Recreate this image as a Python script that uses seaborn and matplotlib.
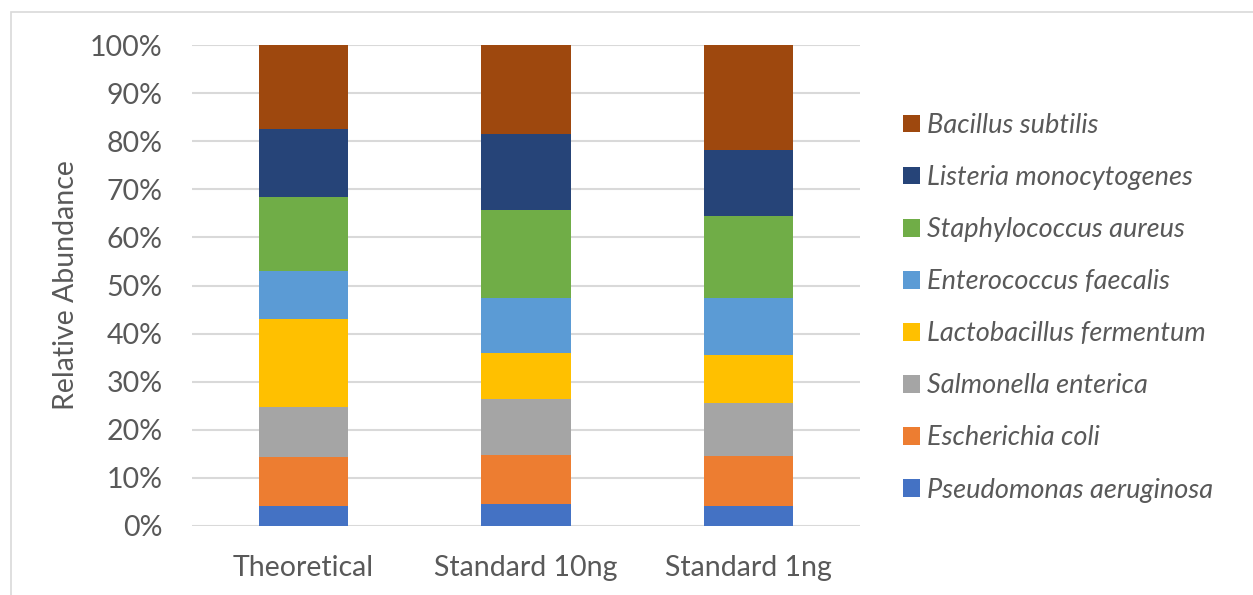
import matplotlib
matplotlib.use("Agg")
import matplotlib.pyplot as plt
from matplotlib.patches import Patch, Rectangle
import pandas as pd
import seaborn as sns

samples = ["Theoretical", "Standard 10ng", "Standard 1ng"]

# species from bottom of the stack to the top
species = ["Pseudomonas aeruginosa", "Escherichia coli", "Salmonella enterica",
           "Lactobacillus fermentum", "Enterococcus faecalis",
           "Staphylococcus aureus", "Listeria monocytogenes", "Bacillus subtilis"]

# relative abundance (%) per sample: Theoretical, Standard 10ng, Standard 1ng
pseudomonas = [4.2, 4.6, 4.2]
e_coli = [10.1, 10.1, 10.4]
salmonella = [10.4, 11.6, 11.0]
lactobacillus = [18.4, 9.6, 10.0]
enterococcus = [9.9, 11.6, 11.9]
staphylococcus = [15.5, 18.3, 16.9]
listeria = [14.1, 15.7, 13.8]
bacillus = [17.4, 18.5, 21.8]

colors = ["#4472C4", "#ED7D31", "#A5A5A5", "#FFC000", "#5B9BD5",
          "#70AD47", "#264478", "#9E480E"]

values = [pseudomonas, e_coli, salmonella, lactobacillus, enterococcus,
          staphylococcus, listeria, bacillus]

wide = pd.DataFrame(dict(zip(species, values)), index=samples)
wide = wide.div(wide.sum(axis=1), axis=0)
cum = wide.cumsum(axis=1)
long = cum.reset_index().melt(id_vars="index", var_name="Species", value_name="cum")
long = long.rename(columns={"index": "Sample"})

sns.set_style("white")
plt.rcParams["font.family"] = ["Lato", "DejaVu Sans"]
grey = "#595959"
fs = 20.5

fig = plt.figure(figsize=(12.53, 5.95), dpi=100)
ax = fig.add_axes([192 / 1253, 69 / 595, 668 / 1253, 481 / 595])

# draw cumulative totals from the top down so each segment overlays the previous
for sp, c in reversed(list(zip(species, colors))):
    sub = long[long["Species"] == sp]
    sns.barplot(data=sub, x="Sample", y="cum", color=c, width=0.4,
                order=samples, ax=ax, saturation=1, linewidth=0)

ax.set_xlim(-0.5, 2.5)
ax.set_ylim(0, 1)
ax.set_yticks([i / 10 for i in range(11)])
ax.set_yticklabels([f"{i * 10}%" for i in range(11)])
ax.yaxis.grid(True, color="#D9D9D9", linewidth=1.5)
ax.set_axisbelow(True)
for s in ax.spines.values():
    s.set_visible(False)
ax.tick_params(axis="y", length=0, pad=21, labelsize=fs, labelcolor=grey)
ax.tick_params(axis="x", length=0, pad=21, labelsize=fs, labelcolor=grey)
ax.set_xlabel("")
ax.set_ylabel("Relative Abundance", fontsize=fs, color=grey)
ax.yaxis.set_label_coords(-0.169, 0.5)

handles = [Patch(facecolor=c, edgecolor="none") for c in colors][::-1]
fig.legend(handles, species[::-1], loc="upper left",
           bbox_to_anchor=(903 / 1253, 1 - 113 / 595), frameon=False,
           prop={"style": "italic", "size": 19.5}, labelcolor=grey,
           handlelength=0.63, handleheight=0.63, handletextpad=0.26,
           labelspacing=1.0, borderpad=0, borderaxespad=0)

fig.patches.append(Rectangle((11 / 1253, -0.1), 1.2, 1.1 - 12 / 595,
                             transform=fig.transFigure, fill=False,
                             edgecolor="#D9D9D9", linewidth=1.2))

fig.savefig("out.png", dpi=100)
